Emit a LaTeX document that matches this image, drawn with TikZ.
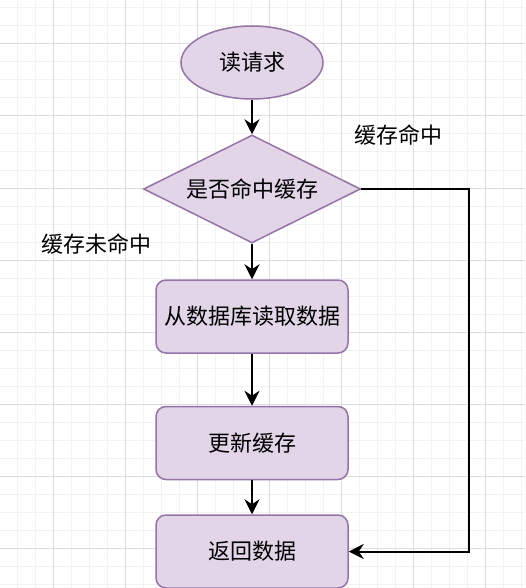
\documentclass[tikz,border=0pt]{standalone}
\usepackage{fontspec}
\setmainfont{Noto Sans CJK SC}
\usetikzlibrary{shapes.geometric,arrows.meta}
\definecolor{boxfill}{HTML}{E1D5E7}
\definecolor{boxline}{HTML}{9673A6}
\definecolor{gridminor}{HTML}{F2F2F2}
\definecolor{gridmajor}{HTML}{DDDDDD}
\begin{document}
\begin{tikzpicture}[x=1pt, y=-1pt, font=\fontsize{22}{26}\selectfont,
    box/.style={draw=boxline, fill=boxfill, line width=1.5pt, inner sep=0pt},
    card/.style={box, rounded corners=10pt, minimum width=192pt, minimum height=73pt},
    flow/.style={-{Stealth[length=15pt, width=15pt, inset=5pt]}, line width=2pt}]
  \useasboundingbox (0,0) rectangle (525,588);
  % grid
  \foreach \x in {17,35,...,525} \draw[gridminor, line width=1pt] (\x,0) -- (\x,588);
  \foreach \y in {8,26,...,588} \draw[gridminor, line width=1pt] (0,\y) -- (525,\y);
  \foreach \x in {53,125,...,525} \draw[gridmajor, line width=1pt] (\x,0) -- (\x,588);
  \foreach \y in {44,116,...,588} \draw[gridmajor, line width=1pt] (0,\y) -- (525,\y);

  \node[box, ellipse, minimum width=142pt, minimum height=73pt] (read) at (252,62.5) {读请求};
  \node[box, diamond, aspect=2, minimum width=217pt, minimum height=108pt] (hit) at (252,189) {是否命中缓存};
  \node[card] (load) at (252,316.5) {从数据库读取数据};
  \node[card] (update) at (252,443) {更新缓存};
  \node[card] (ret) at (252,551.5) {返回数据};

  \node (hitlbl) at (398,135) {缓存命中};
  \node (misslbl) at (96,244) {缓存未命中};

  \coordinate (corner) at (469,189);
  \draw[flow] (read) -- (hit);
  \draw[flow] (hit) -- (load);
  \draw[flow] (load) -- (update);
  \draw[flow] (update) -- (ret);
  \draw[flow] (hit.east) -- (corner) |- (ret.east);
\end{tikzpicture}
\end{document}
